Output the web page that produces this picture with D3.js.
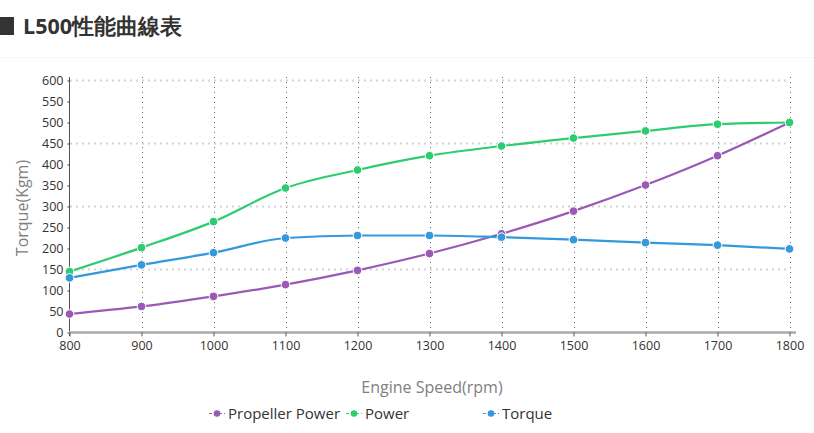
<!DOCTYPE html>
<html>
<head>
<meta charset="utf-8">
<script src="https://cdn.jsdelivr.net/npm/d3@7"></script>
<style>
  body { margin: 0; background: #fff; font-family: "Open Sans", sans-serif; }
  svg { display: block; }
</style>
</head>
<body>
<svg id="chart" width="814" height="433"></svg>
<script>
// dati
const rpm = [800, 900, 1000, 1100, 1200, 1300, 1400, 1500, 1600, 1700, 1800];
const propellerPower = [44, 62, 86, 114, 148, 188, 235, 289, 351, 421, 500];
const power = [145, 202, 264, 344, 387, 421, 444, 463, 480, 496, 500];
const torque = [130, 161, 190, 225, 231, 231, 227, 221, 214, 208, 199];
const yTicks = [0, 50, 100, 150, 200, 250, 300, 350, 400, 450, 500, 550, 600];
const gridY = [150, 300, 450, 600];

const series = [
  { name: "Propeller Power", values: propellerPower, color: "#9b59b6" },
  { name: "Power", values: power, color: "#2ecc71" },
  { name: "Torque", values: torque, color: "#3498db" }
];

const svg = d3.select("#chart");

// titolo
svg.append("rect").attr("x", 0).attr("y", 17).attr("width", 14).attr("height", 18).attr("fill", "#333");
svg.append("text")
  .attr("x", 23).attr("y", 34)
  .attr("font-size", 21.5).attr("font-weight", "bold").attr("fill", "#333")
  .text("L500性能曲線表");
svg.append("line").attr("x1", 0).attr("x2", 814).attr("y1", 57.5).attr("y2", 57.5)
  .attr("stroke", "#f5f5f5");

const x = d3.scaleLinear().domain([800, 1800]).range([69.5, 789.5]);
const y = d3.scaleLinear().domain([0, 600]).range([332.5, 80.5]);

const g = svg.append("g");

// griglia verticale
g.selectAll(".vgrid").data(rpm.slice(1)).enter().append("line")
  .attr("class", "vgrid")
  .attr("x1", (d) => Math.round(x(d)) + 0.5).attr("x2", (d) => Math.round(x(d)) + 0.5)
  .attr("y1", 77).attr("y2", 336)
  .attr("stroke", "#666").attr("stroke-width", 1).attr("stroke-dasharray", "1,4");

// griglia orizzontale
g.selectAll(".hgrid").data(gridY).enter().append("line")
  .attr("class", "hgrid")
  .attr("x1", 70).attr("x2", 790)
  .attr("y1", (d) => y(d)).attr("y2", (d) => y(d))
  .attr("stroke", "#d4d4d4").attr("stroke-width", 2).attr("stroke-dasharray", "2,4");

// asse y
const yAxis = g.append("g").attr("transform", "translate(69.5,0)")
  .call(d3.axisLeft(y).tickValues(yTicks).tickSize(2).tickPadding(4));
yAxis.select(".domain").attr("stroke", "#555").attr("d", "M0,77V336");
yAxis.selectAll(".tick line").attr("stroke", "#333");
yAxis.selectAll("text").attr("font-size", 12.5).attr("fill", "#333").attr("font-family", "Open Sans");

// asse x
const xAxis = g.append("g").attr("transform", "translate(0,332.5)")
  .call(d3.axisBottom(x).tickValues(rpm).tickFormat(d3.format("d")).tickSize(4).tickPadding(5));
xAxis.select(".domain").attr("stroke", "#aaa").attr("stroke-width", 2.5).attr("d", "M69,0H796");
xAxis.selectAll(".tick line").attr("stroke", "#555");
xAxis.selectAll("text").attr("font-size", 12.5).attr("fill", "#333").attr("font-family", "Open Sans");

// titoli assi
svg.append("text")
  .attr("transform", "translate(28,208) rotate(-90)")
  .attr("text-anchor", "middle").attr("font-size", 16).attr("fill", "#808080")
  .text("Torque(Kgm)");
svg.append("text")
  .attr("x", 432).attr("y", 393)
  .attr("text-anchor", "middle").attr("font-size", 16).attr("fill", "#808080")
  .text("Engine Speed(rpm)");

// linee
const line = d3.line()
  .x((d, i) => x(rpm[i]))
  .y((d) => y(d))
  .curve(d3.curveMonotoneX);

series.forEach((s) => {
  const sg = g.append("g");
  sg.append("path")
    .attr("d", line(s.values))
    .attr("fill", "none").attr("stroke", s.color).attr("stroke-width", 2.2);
  sg.selectAll("circle").data(s.values).enter().append("circle")
    .attr("cx", (d, i) => x(rpm[i])).attr("cy", (d) => y(d))
    .attr("r", 4.3).attr("fill", s.color)
    .attr("stroke", "#fff").attr("stroke-width", 1);
});

// legenda
const legend = svg.append("g").attr("transform", "translate(209,413.5)");
series.forEach((s, i) => {
  const item = legend.append("g").attr("transform", `translate(${i * 137},0)`);
  item.append("line").attr("x1", 0).attr("x2", 16).attr("y1", 0).attr("y2", 0)
    .attr("stroke", s.color).attr("stroke-width", 1).attr("stroke-dasharray", "3,2");
  item.append("circle").attr("cx", 8).attr("cy", 0).attr("r", 3.3).attr("fill", s.color);
  item.append("text").attr("x", 19).attr("y", 5)
    .attr("font-size", 15).attr("fill", "#333")
    .text(s.name);
});
</script>
</body>
</html>
